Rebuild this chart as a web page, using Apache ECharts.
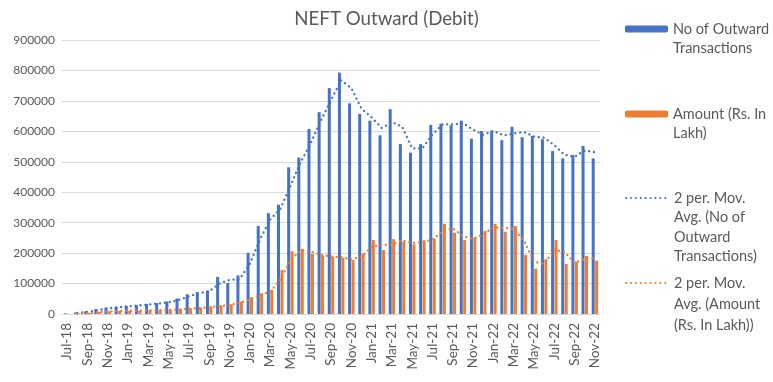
<!DOCTYPE html>
<html>
<head>
<meta charset="utf-8">
<script src="https://cdn.jsdelivr.net/npm/echarts@6/dist/echarts.min.js"></script>
<style>html,body{margin:0;padding:0;background:#fff}#c{width:773px;height:382px}</style>
</head>
<body>
<div id="c"></div>
<script>
var months = ['Jul-18','Aug-18','Sep-18','Oct-18','Nov-18','Dec-18',
  'Jan-19','Feb-19','Mar-19','Apr-19','May-19','Jun-19','Jul-19','Aug-19','Sep-19','Oct-19','Nov-19','Dec-19',
  'Jan-20','Feb-20','Mar-20','Apr-20','May-20','Jun-20','Jul-20','Aug-20','Sep-20','Oct-20','Nov-20','Dec-20',
  'Jan-21','Feb-21','Mar-21','Apr-21','May-21','Jun-21','Jul-21','Aug-21','Sep-21','Oct-21','Nov-21','Dec-21',
  'Jan-22','Feb-22','Mar-22','Apr-22','May-22','Jun-22','Jul-22','Aug-22','Sep-22','Oct-22','Nov-22'];

var transactions = [2000,5000,9000,16000,21000,23000,
  27000,29000,33000,36000,41000,51000,65000,72000,77000,122000,102000,127000,
  201000,289000,331000,359000,482000,514000,608000,663000,742000,793000,692000,657000,
  635000,587000,673000,558000,530000,558000,621000,625000,620000,635000,576000,601000,
  602000,571000,615000,581000,585000,574000,535000,511000,522000,552000,511000];

var amount = [500,1500,4000,7000,9000,10000,
  11000,11000,13000,12000,14000,16000,18000,21000,24000,28000,32000,41000,
  55000,68000,79000,145000,206000,214000,197000,191000,188000,184000,177000,199000,
  243000,210000,246000,238000,229000,242000,247000,296000,267000,243000,251000,273000,
  296000,270000,289000,194000,149000,180000,243000,164000,172000,191000,175000];

var yTicks = [0,100000,200000,300000,400000,500000,600000,700000,800000,900000];

var names = {
  tx: 'No of Outward Transactions',
  amt: 'Amount (Rs. In Lakh)',
  maTx: '2 per. Mov. Avg. (No of Outward Transactions)',
  maAmt: '2 per. Mov. Avg. (Amount (Rs. In Lakh))'
};
var legendLines = {};
legendLines[names.tx] = ['No of Outward', 'Transactions'];
legendLines[names.amt] = ['Amount (Rs. In', 'Lakh)'];
legendLines[names.maTx] = ['2 per. Mov.', 'Avg. (No of', 'Outward', 'Transactions)'];
legendLines[names.maAmt] = ['2 per. Mov.', 'Avg. (Amount', '(Rs. In Lakh))'];

// 2-period moving average trendline (as in the source chart's trendline)
function movingAvg2(arr) {
  return arr.map(function (v, i) { return i === 0 ? null : (arr[i - 1] + v) / 2; });
}

var BLUE = '#4472C4', ORANGE = '#ED7D31', TXT = '#595959';
var FONT = 'Lato, "Open Sans", sans-serif';
var LH = 19.5;

function legendFor(name, iconCenter, isLine, lh) {
  var lines = legendLines[name];
  var n = lines.length;
  var L = lh || LH;
  // prepend blank lines so the first text line sits level with the icon
  var pad = '';
  for (var i = 0; i < n - 1; i++) pad += ' \n';
  var lg = {
    data: [name],
    orient: 'vertical',
    left: 625,
    top: iconCenter - (2 * n - 1) * L / 2,
    padding: 0,
    itemWidth: 43,
    itemHeight: 7,
    selectedMode: false,
    formatter: function () { return pad + lines.join('\n'); },
    textStyle: {color: TXT, fontSize: 14.5, fontFamily: FONT, lineHeight: L}
  };
  if (isLine) {
    lg.itemStyle = {opacity: 0, borderWidth: 0};
  }
  return lg;
}

var chart = echarts.init(document.getElementById('c'), null, {renderer: 'canvas'});
chart.setOption({
  animation: false,
  backgroundColor: '#fff',
  title: {
    text: 'NEFT Outward (Debit)',
    left: 'center',
    top: 4,
    textStyle: {color: TXT, fontSize: 18.7, fontWeight: 'normal', fontFamily: FONT}
  },
  legend: [
    legendFor(names.tx, 29, false),
    legendFor(names.amt, 114, false),
    legendFor(names.maTx, 198, true),
    legendFor(names.maAmt, 283, true, 21)
  ],
  grid: {left: 62, right: 173, top: 40, bottom: 68, containLabel: false},
  xAxis: {
    type: 'category',
    data: months,
    axisTick: {show: false},
    axisLine: {lineStyle: {color: '#D9D9D9', width: 1}},
    axisLabel: {
      interval: 1, rotate: 90, color: TXT, fontSize: 13.5, fontFamily: FONT, margin: 9
    }
  },
  yAxis: {
    type: 'value',
    min: yTicks[0],
    max: yTicks[yTicks.length - 1],
    interval: yTicks[1] - yTicks[0],
    axisLine: {show: false},
    axisTick: {show: false},
    splitLine: {lineStyle: {color: '#D9D9D9', width: 1}},
    axisLabel: {color: TXT, fontSize: 12, fontFamily: FONT, margin: 7,
      formatter: function (v) { return String(v); }}
  },
  series: [
    {name: names.tx, type: 'bar', data: transactions, barWidth: 3, barGap: '15%',
      itemStyle: {color: BLUE}},
    {name: names.amt, type: 'bar', data: amount, barWidth: 3, barGap: '15%',
      itemStyle: {color: ORANGE}},
    {name: names.maTx, type: 'line', data: movingAvg2(transactions), symbol: 'none',
      connectNulls: false, z: 5,
      lineStyle: {color: BLUE, width: 2.3, type: [0.1, 4.8], cap: 'round'},
      itemStyle: {color: BLUE}},
    {name: names.maAmt, type: 'line', data: movingAvg2(amount), symbol: 'none',
      connectNulls: false, z: 5,
      lineStyle: {color: ORANGE, width: 2.3, type: [0.1, 4.8], cap: 'round'},
      itemStyle: {color: ORANGE}}
  ]
});
</script>
</body>
</html>
